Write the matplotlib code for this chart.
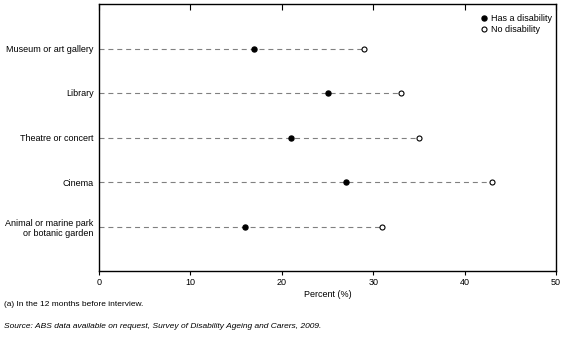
import matplotlib.pyplot as plt
import numpy as np

categories = ["Museum or art gallery", "Library", "Theatre or concert", "Cinema",
              "Animal or marine park\nor botanic garden"]
has_disability = [17, 25, 21, 27, 16]
no_disability = [29, 33, 35, 43, 31]
xticks = [0, 10, 20, 30, 40, 50]

plt.rcParams["font.family"] = ["Liberation Sans", "DejaVu Sans"]
plt.rcParams["font.size"] = 6.5

fig = plt.figure(figsize=(5.67, 3.40), dpi=100)
ax = fig.add_axes([99 / 567, 1 - 271 / 340, (556 - 99) / 567, (271 - 4) / 340])

ypos = np.arange(len(categories), 0, -1)

# dashed guide from the axis out to the no-disability value
for y, v in zip(ypos, no_disability):
    ax.plot([0, v], [y, y], color="#808080", lw=0.8, dashes=(4.5, 3.5), zorder=1)

ax.plot(has_disability, ypos, ls="none", marker="o", ms=3.6, color="black",
        label="Has a disability", zorder=3)
ax.plot(no_disability, ypos, ls="none", marker="o", ms=3.6, mfc="white",
        mec="black", mew=0.8, label="No disability", zorder=3)

ax.set_xlim(0, 50)
ax.set_ylim(0, 6)
ax.set_xticks(xticks)
ax.set_yticks(ypos)
ax.set_yticklabels(categories, ha="right")
ax.tick_params(axis="y", length=0, pad=4)
ax.tick_params(axis="x", length=3, width=0.8, pad=2, top=True, direction="out")
for t in ax.xaxis.get_major_ticks():
    t.tick2line.set_marker(3)
    t.tick2line.set_markersize(4)
for s in ax.spines.values():
    s.set_linewidth(1)
ax.set_xlabel("Percent (%)", labelpad=2)

ax.legend(loc="upper right", frameon=False, handlelength=0.6, handletextpad=0.4,
          borderaxespad=0.6, labelspacing=0.15, fontsize=6.5,
          bbox_to_anchor=(1.01, 0.995))

fig.text(4 / 567, 1 - 305 / 340, "(a) In the 12 months before interview.", fontsize=6, va="center")
fig.text(4 / 567, 1 - 326 / 340,
         "Source: ABS data available on request, Survey of Disability Ageing and Carers, 2009.",
         fontsize=6, va="center", style="italic")

fig.savefig("out.png", dpi=100)
